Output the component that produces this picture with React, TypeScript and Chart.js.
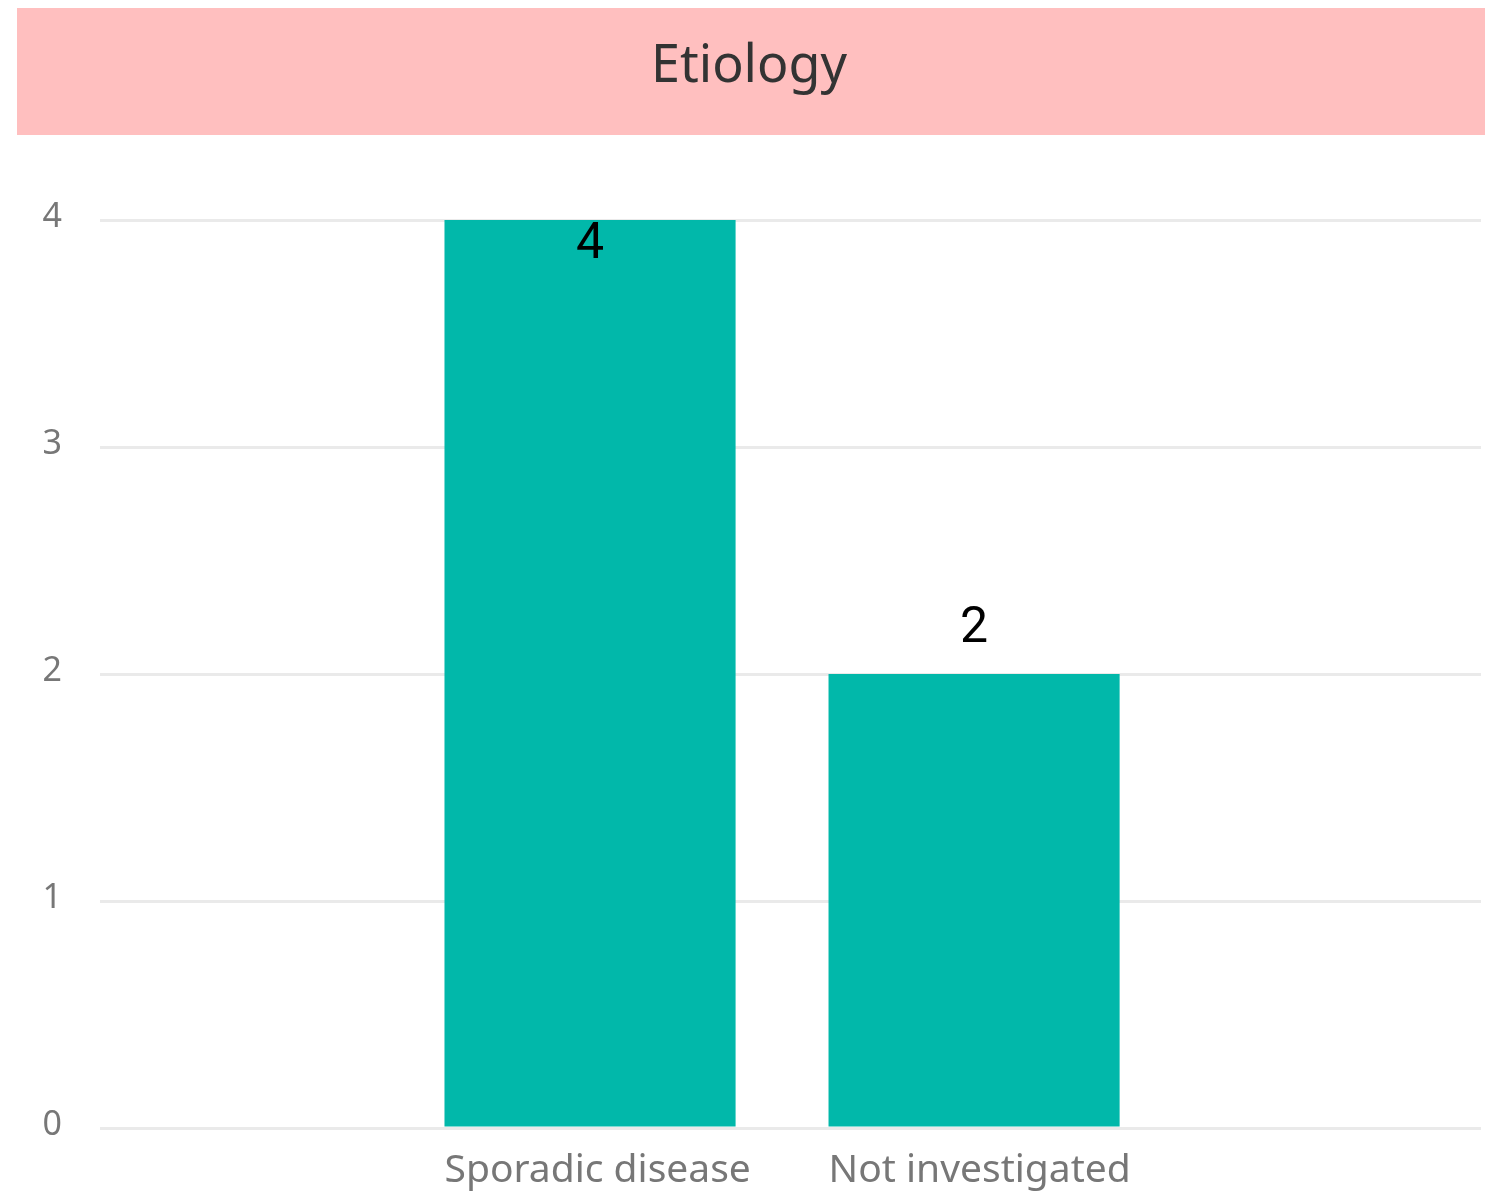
import React, { useEffect, useRef } from 'react';
import { Chart, registerables } from 'chart.js';

Chart.register(...registerables);

const TITLE = 'Etiology';
const categories = ['Sporadic disease', 'Not investigated'];
const values = [4, 2];
const yTicks = [0, 1, 2, 3, 4];

// layout constants (not data)
const BAR_FRACTION = 0.758;
const X_MIN = -1.276;
const X_MAX = 2.32;
const BANNER_COLOR = '#FFBFBF';
const BAR_COLOR = '#01B8AA';
const TICK_COLOR = '#777777';

export default function App() {
  const ref = useRef<HTMLCanvasElement>(null);

  useEffect(() => {
    const canvas = ref.current;
    if (!canvas) return;

    const bannerPlugin = {
      id: 'banner',
      beforeDraw(chart: any) {
        const tb = chart.titleBlock;
        if (!tb) return;
        const ctx = chart.ctx;
        ctx.save();
        ctx.fillStyle = BANNER_COLOR;
        ctx.fillRect(tb.left, tb.top, chart.width - tb.left, 127);
        ctx.restore();
      },
    };

    const labelPlugin = {
      id: 'valueLabels',
      afterDatasetsDraw(chart: any) {
        const ctx = chart.ctx;
        const meta = chart.getDatasetMeta(0);
        ctx.save();
        ctx.font = '50px Roboto';
        ctx.fillStyle = '#000000';
        ctx.textAlign = 'center';
        ctx.textBaseline = 'alphabetic';
        meta.data.forEach((bar: any, i: number) => {
          const text = String(values[i]);
          const m = ctx.measureText(text);
          const asc = m.actualBoundingBoxAscent;
          let y = bar.y - 32;
          if (y - asc < chart.chartArea.top) {
            y = bar.y + 2 + asc;
          }
          ctx.fillText(text, bar.x, y);
        });
        ctx.restore();
      },
    };

    const chart = new Chart(canvas, {
      type: 'bar',
      data: {
        datasets: [
          {
            data: values.map((v, i) => ({ x: i, y: v })),
            backgroundColor: BAR_COLOR,
            barPercentage: 1,
            categoryPercentage: BAR_FRACTION,
          },
        ],
      },
      options: {
        animation: false,
        responsive: true,
        maintainAspectRatio: false,
        layout: { padding: { left: 17, top: 8, right: 4, bottom: 0 } },
        plugins: {
          legend: { display: false },
          tooltip: { enabled: false },
          title: {
            display: true,
            text: TITLE,
            color: '#333333',
            font: { family: 'Noto Sans', size: 52, weight: 'normal', lineHeight: 1.2 },
            padding: { top: 28, bottom: 121.6 },
          },
        },
        scales: {
          x: {
            type: 'linear',
            min: X_MIN,
            max: X_MAX,
            offset: false,
            grid: { display: false, drawTicks: false, offset: false },
            border: { display: false },
            afterBuildTicks: (scale: any) => {
              scale.ticks = categories.map((_, i) => ({ value: i - BAR_FRACTION / 2 }));
            },
            afterFit: (scale: any) => {
              scale.height = 69;
            },
            ticks: {
              align: 'start',
              padding: 19,
              color: TICK_COLOR,
              autoSkip: false,
              maxRotation: 0,
              font: { family: 'Noto Sans', size: 39 },
              callback: (v: any) => categories[Math.round(Number(v) + BAR_FRACTION / 2)] ?? '',
            },
          },
          y: {
            type: 'linear',
            min: yTicks[0],
            max: yTicks[yTicks.length - 1],
            grid: { color: '#EAEAEA', lineWidth: 3, drawTicks: false },
            border: { display: false },
            afterBuildTicks: (scale: any) => {
              scale.ticks = yTicks.map((v) => ({ value: v }));
            },
            afterFit: (scale: any) => {
              scale.width = 83;
            },
            ticks: {
              padding: 38,
              color: TICK_COLOR,
              labelOffset: -3,
              font: { family: 'Noto Sans', size: 34 },
            },
          },
        },
      } as any,
      plugins: [bannerPlugin, labelPlugin],
    });

    return () => {
      chart.destroy();
    };
  }, []);

  return (
    <div
      style={{
        position: 'fixed',
        left: 0,
        top: 0,
        width: 1485,
        height: 1197,
        background: '#ffffff',
      }}
    >
      <canvas ref={ref} />
    </div>
  );
}
